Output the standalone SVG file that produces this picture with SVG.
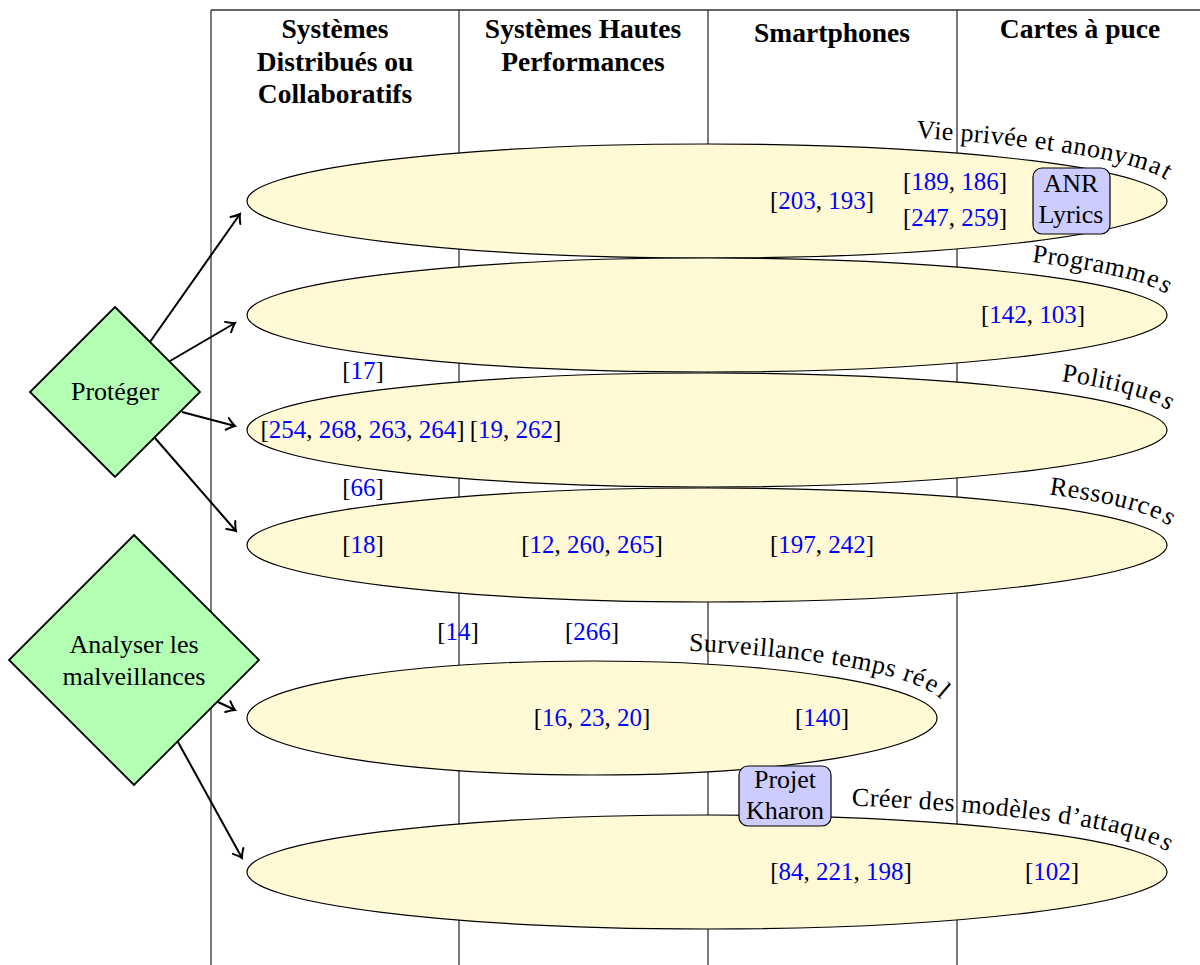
<svg xmlns="http://www.w3.org/2000/svg" width="1200" height="965" viewBox="0 0 1200 965">
<style>
.grid{stroke:#333;stroke-width:1.3;fill:none}
.ell{fill:#fff9d6;stroke:#000;stroke-width:1.2}
.box{fill:#ccccff;stroke:#000;stroke-width:1.2}
.dia{fill:#b3ffb3;stroke:#000;stroke-width:1.8}
.hd{font-family:"Liberation Serif",serif;font-weight:bold;font-size:27.5px;text-anchor:middle;fill:#000}
.tx{font-family:"Liberation Serif",serif;font-size:26px;fill:#000}
.cv{letter-spacing:0.35px}
.c{text-anchor:middle}
.ref{font-family:"Liberation Serif",serif;font-size:25px;fill:#000;text-anchor:middle}
.b{fill:#0000ff}
.arr{stroke:#000;stroke-width:2;fill:none;marker-end:url(#ah)}
</style>
<defs>
<marker id="ah" markerUnits="userSpaceOnUse" orient="auto" refX="0" refY="0" markerWidth="20" markerHeight="20" viewBox="-10 -10 20 20" overflow="visible">
<path d="M-8,-6 Q-3,-1.5 0,0 Q-3,1.5 -8,6" fill="none" stroke="#000" stroke-width="2" stroke-linecap="round"/>
</marker>
<path id="p1" d="M915,150.2 A460,57 0 0 1 1167,201 A460,57 0 0 1 707,258"/>
<path id="p2" d="M1030,274.4 A460,57 0 0 1 1167,315 A460,57 0 0 1 707,372"/>
<path id="p3" d="M1059,393.3 A460,57 0 0 1 1167,430 A460,57 0 0 1 707,487"/>
<path id="p4" d="M1047,506.6 A460,57 0 0 1 1167,545 A460,57 0 0 1 707,602"/>
<path id="p5" d="M688,663.3 A345,57 0 0 1 937,718 A345,57 0 0 1 592,775"/>
<path id="p6" d="M851,817.9 A460,57 0 0 1 1167,872 A460,57 0 0 1 707,929"/>
</defs>

<g id="grid">
<path class="grid" d="M211,10 H1200 M211,10 V965 M459,10 V965 M708,10 V965 M957,10 V965"/>
</g>

<g id="headers">
<text class="hd" x="335" y="38">Systèmes</text>
<text class="hd" x="335" y="71">Distribués ou</text>
<text class="hd" x="335" y="103">Collaboratifs</text>
<text class="hd" x="583" y="38">Systèmes Hautes</text>
<text class="hd" x="583" y="71">Performances</text>
<text class="hd" x="832" y="42">Smartphones</text>
<text class="hd" x="1080" y="38">Cartes à puce</text>
</g>

<g id="e1">
<ellipse class="ell" cx="707" cy="201" rx="460" ry="57"/>
<text class="tx cv"><textPath href="#p1"><tspan dy="-12.5">Vie privée et anonymat</tspan></textPath></text>
<text class="ref" x="822" y="209">[<tspan class="b">203</tspan>, <tspan class="b">193</tspan>]</text>
<text class="ref" x="955" y="190">[<tspan class="b">189</tspan>, <tspan class="b">186</tspan>]</text>
<text class="ref" x="955" y="226">[<tspan class="b">247</tspan>, <tspan class="b">259</tspan>]</text>
</g>
<g id="anr">
<rect class="box" x="1033" y="168" width="77" height="66" rx="9"/>
<text class="tx c" x="1071" y="192">ANR</text>
<text class="tx c" x="1071" y="223">Lyrics</text>
</g>

<g id="e2">
<ellipse class="ell" cx="707" cy="315" rx="460" ry="57"/>
<text class="tx cv"><textPath href="#p2"><tspan dy="-12.5">Programmes</tspan></textPath></text>
<text class="ref" x="1033" y="323">[<tspan class="b">142</tspan>, <tspan class="b">103</tspan>]</text>
</g>

<g id="e3">
<ellipse class="ell" cx="707" cy="430" rx="460" ry="57"/>
<text class="tx cv"><textPath href="#p3"><tspan dy="-12.5">Politiques</tspan></textPath></text>
<text class="ref" x="362.5" y="438">[<tspan class="b">254</tspan>, <tspan class="b">268</tspan>, <tspan class="b">263</tspan>, <tspan class="b">264</tspan>]</text>
<text class="ref" x="515.5" y="438">[<tspan class="b">19</tspan>, <tspan class="b">262</tspan>]</text>
</g>

<g id="e4">
<ellipse class="ell" cx="707" cy="545" rx="460" ry="57"/>
<text class="tx cv"><textPath href="#p4"><tspan dy="-12.5">Ressources</tspan></textPath></text>
<text class="ref" x="363" y="553">[<tspan class="b">18</tspan>]</text>
<text class="ref" x="592" y="553">[<tspan class="b">12</tspan>, <tspan class="b">260</tspan>, <tspan class="b">265</tspan>]</text>
<text class="ref" x="822" y="553">[<tspan class="b">197</tspan>, <tspan class="b">242</tspan>]</text>
</g>

<g id="e5">
<ellipse class="ell" cx="592" cy="718" rx="345" ry="57"/>
<text class="tx cv"><textPath href="#p5"><tspan dy="-12.5">Surveillance temps réel</tspan></textPath></text>
<text class="ref" x="592" y="726">[<tspan class="b">16</tspan>, <tspan class="b">23</tspan>, <tspan class="b">20</tspan>]</text>
<text class="ref" x="822" y="726">[<tspan class="b">140</tspan>]</text>
</g>

<g id="e6">
<ellipse class="ell" cx="707" cy="872" rx="460" ry="57"/>
<text class="tx cv"><textPath href="#p6"><tspan dy="-12.5">Créer des modèles d’attaques</tspan></textPath></text>
<text class="ref" x="841" y="880">[<tspan class="b">84</tspan>, <tspan class="b">221</tspan>, <tspan class="b">198</tspan>]</text>
<text class="ref" x="1052" y="880">[<tspan class="b">102</tspan>]</text>
</g>
<g id="kharon">
<rect class="box" x="739" y="766" width="92" height="60" rx="9"/>
<text class="tx c" x="785" y="788">Projet</text>
<text class="tx c" x="785" y="819">Kharon</text>
</g>

<g id="free-refs">
<text class="ref" x="363" y="379">[<tspan class="b">17</tspan>]</text>
<text class="ref" x="363" y="496">[<tspan class="b">66</tspan>]</text>
<text class="ref" x="458" y="640">[<tspan class="b">14</tspan>]</text>
<text class="ref" x="592" y="640">[<tspan class="b">266</tspan>]</text>
</g>

<g id="connectors">
<line class="arr" x1="150" y1="342" x2="240" y2="214"/>
<line class="arr" x1="170" y1="361" x2="235" y2="323"/>
<line class="arr" x1="182" y1="412" x2="235" y2="426"/>
<line class="arr" x1="155" y1="438" x2="236" y2="531"/>
<line class="arr" x1="218" y1="702" x2="235" y2="710"/>
<line class="arr" x1="178" y1="742" x2="242" y2="858"/>
</g>

<g id="proteger">
<polygon class="dia" points="115,307 200,392 115,477 30,392"/>
<text class="tx c" x="115" y="400">Protéger</text>
</g>
<g id="analyser">
<polygon class="dia" points="134,535 259,660 134,785 9,660"/>
<text class="tx c" x="134" y="653">Analyser les</text>
<text class="tx c" x="134" y="685">malveillances</text>
</g>
</svg>
